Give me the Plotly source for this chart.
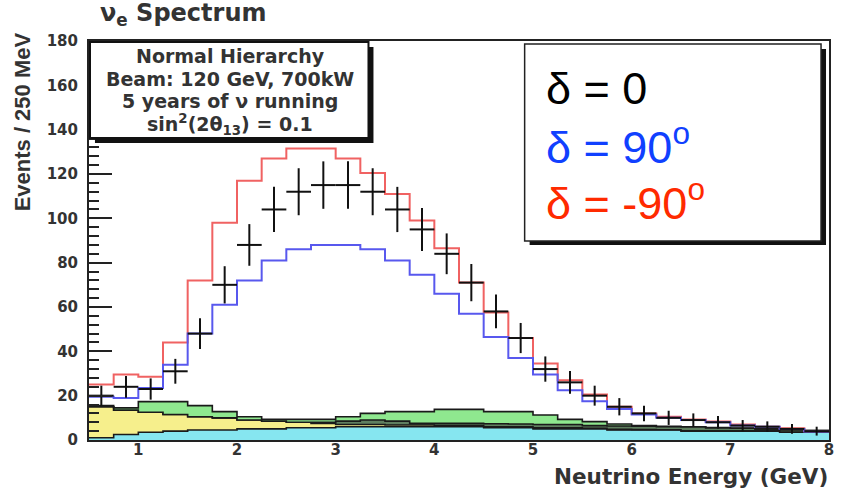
import plotly.graph_objects as go

# ---------------- data ----------------
E_edges = [0.5, 0.75, 1.0, 1.25, 1.5, 1.75, 2.0, 2.25, 2.5, 2.75, 3.0, 3.25, 3.5, 3.75,
           4.0, 4.25, 4.5, 4.75, 5.0, 5.25, 5.5, 5.75, 6.0, 6.25, 6.5, 6.75, 7.0, 7.25,
           7.5, 7.75, 8.0]
bin_half_width = 0.125

delta_0 = [20, 24, 23, 31, 48, 70, 88, 104, 112, 115, 115, 112, 104, 95, 84, 71, 58, 46,
           32, 26, 20, 15, 12, 10, 9, 8, 6.5, 6, 5, 4]
delta_0_err = [4.5, 4.9, 4.8, 5.6, 6.9, 8.4, 9.4, 10.2, 10.6, 10.7, 10.7, 10.6, 10.2, 9.7,
               9.2, 8.4, 7.6, 6.8, 5.7, 5.1, 4.5, 3.9, 3.5, 3.2, 3.0, 2.8, 2.5, 2.4, 2.2, 2.0]
delta_p90 = [19.5, 19, 23.5, 34, 48, 61, 72, 81, 86, 88, 88, 86, 81, 74.5, 66, 57, 46.5,
             37, 29.5, 22.5, 17.5, 14, 11.5, 10, 9, 8, 6.5, 6, 5, 3.8]
delta_m90 = [25, 29.5, 28.5, 44, 72, 98, 117, 127, 131.5, 131.5, 127, 120.5, 111, 99, 86.5,
             71, 57.5, 46, 34.5, 27, 20.5, 15, 12, 10.5, 9.3, 8.3, 7, 6, 5.3, 4]

# stacked background components
bkg_cyan   = [1, 2.5, 3.5, 4, 4.5, 4.5, 5, 5, 5.5, 5.5, 6, 6, 6, 6, 6, 6, 5.5, 5.5, 5, 5,
              5, 4.5, 4.5, 4.5, 4, 4, 4, 4, 3.5, 3.5]
bkg_yellow = [14, 11, 9, 7.5, 6, 5.5, 4, 3.5, 2.5, 2, 1, 1, 0.8, 0.8, 0.5, 0.5, 0.5, 0.5,
              0.5, 0.5, 0.3, 0.3, 0.2, 0.1, 0.2, 0.1, 0.1, 0.1, 0.1, 0.1]
bkg_dark   = [0, 0, 0, 0, 0, 0, 0, 0, 0, 0.5, 1.5, 2, 1.7, 0.7, 1, 1, 1.3, 1.2, 1.5, 1.5,
              1.2, 1.5, 1.5, 1.4, 1.8, 1.4, 1.2, 0.9, 1.1, 0.7]
bkg_green  = [0.5, 1, 4.8, 5.8, 5, 2.8, 1.5, 0.8, 1.3, 1.3, 2, 3, 4.3, 5.3, 6.3, 6.3, 5.5,
              5.6, 4.3, 2.3, 1.8, 0.9, 0.3, 0.2, 0, 0.1, 0.1, 0, 0, 0]

y_ticks = [0, 20, 40, 60, 80, 100, 120, 140, 160, 180]
x_ticks = [1, 2, 3, 4, 5, 6, 7, 8]

info_lines = ["Normal Hierarchy", "Beam: 120 GeV, 700kW", "5 years of ν running",
              "sin<sup>2</sup>(2θ<sub>13</sub>) = 0.1"]
legend_lines = [("δ = 0", "#000000"), ("δ = 90<sup>o</sup>", "#1040ff"),
                ("δ = -90<sup>o</sup>", "#ff2a00")]

# ---------------- helpers ----------------
W, H = 846, 497
L, R, T, B = 89, 833, 41, 440


def px(X):
    return (X - L) / (R - L)


def py(Y):
    return (B - Y) / (B - T)


def step(vals):
    return list(vals) + [vals[-1]]


centers = [e + bin_half_width for e in E_edges[:-1]]

fig = go.Figure()

# stacked background
cum = [0.0] * len(bkg_cyan)
fills = [(bkg_cyan, "#86e6f0"), (bkg_yellow, "#f6ef8c"), (bkg_dark, "#5f7f5f"),
         (bkg_green, "#8fe88f")]
first = True
for comp, col in fills:
    cum = [c + v for c, v in zip(cum, comp)]
    fig.add_trace(go.Scatter(
        x=E_edges, y=step(cum), mode="lines", line=dict(shape="hv", color="#1a1a1a", width=1.6),
        fill="tozeroy" if first else "tonexty", fillcolor=col, showlegend=False,
        hoverinfo="skip"))
    first = False

fig.add_trace(go.Scatter(x=E_edges, y=step(delta_m90), mode="lines",
                         line=dict(shape="hv", color="#f06262", width=2), showlegend=False))
fig.add_trace(go.Scatter(x=E_edges, y=step(delta_p90), mode="lines",
                         line=dict(shape="hv", color="#5858ee", width=2), showlegend=False))
fig.add_trace(go.Scatter(
    x=centers, y=delta_0, mode="markers", marker=dict(size=1, color="black"),
    error_x=dict(type="data", array=[bin_half_width] * len(centers), color="#111",
                 thickness=2, width=0),
    error_y=dict(type="data", array=delta_0_err, color="#111", thickness=2, width=0),
    showlegend=False))

bold = dict(family="DejaVu Sans", color="#333", weight="bold")

fig.update_layout(
    width=W, height=H, margin=dict(l=L, r=W - R, t=T, b=H - B),
    paper_bgcolor="white", plot_bgcolor="white",
    xaxis=dict(range=[0.5, 8], tickvals=x_ticks, ticks="", showgrid=False, zeroline=False,
               showline=True, mirror=True, linecolor="#222", linewidth=2,
               tickfont=dict(size=15, **bold), ticklabelstandoff=-5),
    yaxis=dict(range=[0, 180], tickvals=y_ticks, ticks="inside", ticklen=23, tickwidth=1.5,
               tickcolor="#222", showgrid=False, zeroline=False,
               showline=True, mirror=True, linecolor="#222", linewidth=2,
               minor=dict(dtick=4, ticks="inside", ticklen=10, tickwidth=1.5, tickcolor="#222"),
               tickfont=dict(size=15, **bold), ticklabelstandoff=6),
)

shapes = []
# info box (shadow + box)
shapes.append(dict(type="rect", xref="paper", yref="paper", x0=px(95), x1=px(375),
                   y0=py(143), y1=py(47), fillcolor="#111", line=dict(width=0), layer="above"))
shapes.append(dict(type="rect", xref="paper", yref="paper", x0=px(90), x1=px(370),
                   y0=py(138), y1=py(42), fillcolor="white", line=dict(color="#111", width=2),
                   layer="above"))
# legend box
shapes.append(dict(type="rect", xref="paper", yref="paper", x0=px(532), x1=px(830),
                   y0=py(245), y1=py(49), fillcolor="#111", line=dict(width=0), layer="above"))
shapes.append(dict(type="rect", xref="paper", yref="paper", x0=px(527), x1=px(825),
                   y0=py(241), y1=py(44), fillcolor="white", line=dict(color="#222", width=1.5),
                   layer="above"))
fig.update_layout(shapes=shapes)

ann = []
for i, t in enumerate(info_lines):
    ann.append(dict(text=t, xref="paper", yref="paper", x=px(231), y=py(56 + 22.7 * i),
                    xanchor="center", yanchor="middle", showarrow=False,
                    font=dict(size=19, **bold)))
for i, (t, c) in enumerate(legend_lines):
    ann.append(dict(text=t, xref="paper", yref="paper", x=px(546), y=py(88 + 56 * i),
                    xanchor="left", yanchor="middle", showarrow=False,
                    font=dict(family="Liberation Sans", size=45, color=c)))
ann.append(dict(text="ν<sub>e</sub> Spectrum", xref="paper", yref="paper", x=px(98), y=py(15),
                xanchor="left", yanchor="middle", showarrow=False, font=dict(size=24, **bold)))
ann.append(dict(text="Events / 250 MeV", xref="paper", yref="paper", x=px(22), y=py(122),
                xanchor="center", yanchor="middle", textangle=-90, showarrow=False,
                font=dict(family="Liberation Sans", size=22, color="#333", weight="bold")))
ann.append(dict(text="Neutrino Energy (GeV)", xref="paper", yref="paper", x=px(834), y=py(476),
                xanchor="right", yanchor="middle", showarrow=False, font=dict(size=21.5, **bold)))
fig.update_layout(annotations=ann)

fig.write_html("out.html")
